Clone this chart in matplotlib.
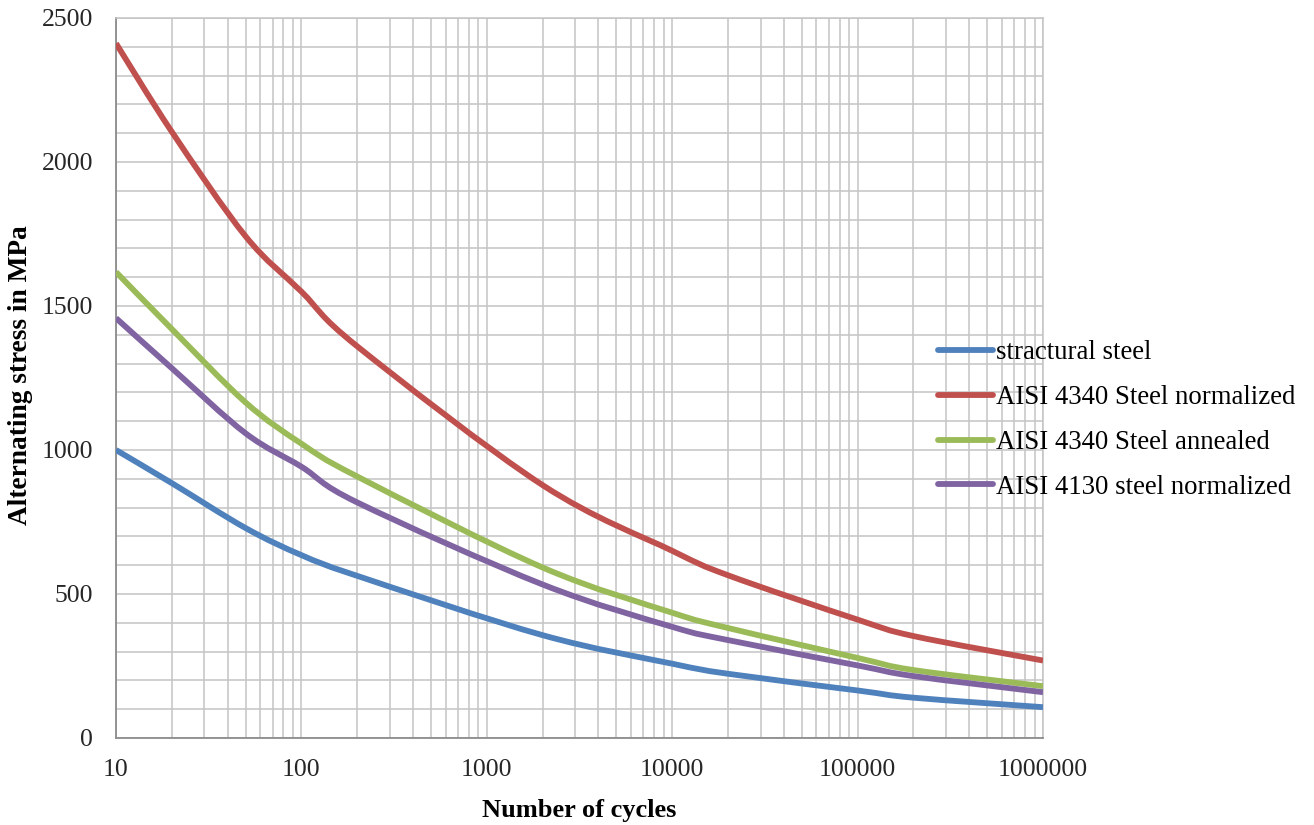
import matplotlib
matplotlib.use("Agg")
import numpy as np
import matplotlib.pyplot as plt
from matplotlib.path import Path
from matplotlib.patches import PathPatch
from matplotlib.lines import Line2D
from matplotlib.ticker import LogLocator, FixedLocator, FixedFormatter, NullFormatter, MultipleLocator

# ---- data ----
cycles = [10, 20, 50, 100, 200, 2000, 10000, 20000, 100000, 200000, 1000000]
structural_steel = [1000, 885, 729, 635, 563, 357, 258, 223, 165, 140, 107]
aisi4340_normalized = [2412, 2105, 1742, 1550, 1360, 878, 650, 565, 411, 354, 269]
aisi4340_annealed = [1618, 1420, 1165, 1022, 908, 592, 435, 382, 278, 236, 180]
aisi4130_normalized = [1458, 1284, 1058, 942, 818, 533, 386, 340, 252, 215, 159]

series_labels = ["stractural steel", "AISI 4340 Steel normalized",
                 "AISI 4340 Steel annealed", "AISI 4130 steel normalized"]
series_colors = ["#4F81BD", "#C0504D", "#9BBB59", "#8064A2"]

x_ticks = [10, 100, 1000, 10000, 100000, 1000000]
x_tick_labels = ["10", "100", "1000", "10000", "100000", "1000000"]
y_ticks = [0, 500, 1000, 1500, 2000, 2500]
y_tick_labels = ["0", "500", "1000", "1500", "2000", "2500"]

x_label = "Number of cycles"
y_label = "Alternating stress in MPa"


def smooth_path(xs, ys):
    """Excel-style smoothed line: Catmull-Rom Bezier segments in (log x, y)."""
    lx = np.log10(np.asarray(xs, float))
    y = np.asarray(ys, float)
    n = len(lx)
    verts = [(xs[0], ys[0])]
    codes = [Path.MOVETO]
    for i in range(n - 1):
        i0 = max(i - 1, 0)
        i3 = min(i + 2, n - 1)
        c1x = lx[i] + (lx[i + 1] - lx[i0]) / 6.0
        c1y = y[i] + (y[i + 1] - y[i0]) / 6.0
        c2x = lx[i + 1] - (lx[i3] - lx[i]) / 6.0
        c2y = y[i + 1] - (y[i3] - y[i]) / 6.0
        verts += [(10 ** c1x, c1y), (10 ** c2x, c2y), (xs[i + 1], ys[i + 1])]
        codes += [Path.CURVE4] * 3
    return Path(verts, codes)


# ---- figure ----
plt.rcParams['font.family'] = ['Liberation Serif', 'DejaVu Serif']
fig = plt.figure(figsize=(13.14, 8.25), dpi=100)
ax = fig.add_axes([116/1314, 1 - 738/825, (1043-116)/1314, (738-18)/825])

LW = 4.2
series = [structural_steel, aisi4340_normalized, aisi4340_annealed, aisi4130_normalized]
handles = []
for vals, lab, col in zip(series, series_labels, series_colors):
    patch = PathPatch(smooth_path(cycles, vals), facecolor='none', edgecolor=col,
                      lw=LW, capstyle='butt', joinstyle='round', zorder=3)
    ax.add_patch(patch)
    handles.append(Line2D([], [], color=col, lw=LW, solid_capstyle='round', label=lab))

ax.set_xscale('log')
ax.set_xlim(10, 1e6)
ax.set_ylim(0, 2500)

ax.xaxis.set_major_locator(FixedLocator(x_ticks))
ax.xaxis.set_major_formatter(FixedFormatter(x_tick_labels))
ax.xaxis.set_minor_locator(LogLocator(base=10, subs=range(2, 10), numticks=100))
ax.xaxis.set_minor_formatter(NullFormatter())
ax.yaxis.set_major_locator(FixedLocator(y_ticks))
ax.yaxis.set_major_formatter(FixedFormatter(y_tick_labels))
ax.yaxis.set_minor_locator(MultipleLocator(100))

grid_col = "#C4C4C4"
ax.grid(True, which='both', color=grid_col, lw=1.1, zorder=0)
ax.set_axisbelow(True)

ax.tick_params(which='both', length=0, labelsize=18.5, colors='#262626')
ax.tick_params(axis='y', pad=16.5)
ax.tick_params(axis='x', pad=15.3)

for s in ['top', 'right']:
    ax.spines[s].set_color(grid_col)
    ax.spines[s].set_linewidth(1.1)
for s in ['left', 'bottom']:
    ax.spines[s].set_color('#8C8C8C')
    ax.spines[s].set_linewidth(1.3)

fig.text(579.5/1314, 1 - 817/825, x_label, fontsize=19, fontweight='bold',
         ha='center', va='baseline', color='#000000')
fig.text(21/1314, 1 - 375/825, y_label, fontsize=19.7, fontweight='bold',
         ha='center', va='center', rotation=90, color='#000000')

leg = fig.legend(handles=handles, loc='center left',
                 bbox_to_anchor=(938/1314, 1 - 420/825),
                 frameon=False, fontsize=19.3, handlelength=2.05, handletextpad=0.12,
                 labelspacing=0.74, borderpad=0, borderaxespad=0)

fig.savefig("out.png", dpi=100)
